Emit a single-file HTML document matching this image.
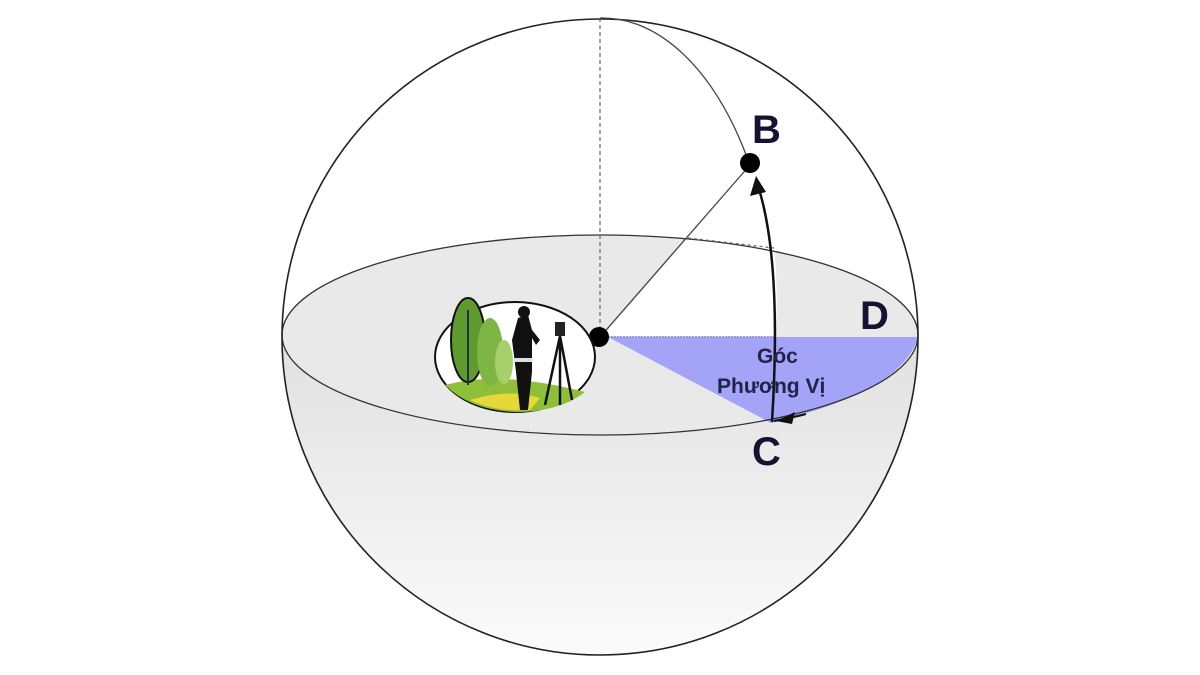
<!DOCTYPE html>
<html><head><meta charset="utf-8"><style>html,body{margin:0;padding:0;background:#fff;}svg{display:block}</style></head>
<body>
<svg width="1200" height="675" viewBox="0 0 1200 675" xmlns="http://www.w3.org/2000/svg">
<defs>
<linearGradient id="lg" x1="0" y1="0" x2="0" y2="1">
<stop offset="0" stop-color="#e0e0e0"/><stop offset="0.5" stop-color="#eeeeee"/><stop offset="1" stop-color="#fcfcfc"/>
</linearGradient>
<clipPath id="sph"><circle cx="600" cy="337" r="318"/></clipPath>
</defs>
<rect width="1200" height="675" fill="#fff"/>
<g clip-path="url(#sph)">
<rect x="280" y="335" width="640" height="330" fill="url(#lg)"/>
<ellipse cx="600" cy="335" rx="318" ry="100" fill="#e9e9e9"/>
</g>
<!-- white wedge -->
<polygon points="603,336 688,237 774,247 776,270 777,300 776,336" style="fill:#ffffff;stroke:none"/>
<!-- blue wedge -->
<path d="M608,337 L918,337 Q905,385 800,415 Q785,420 771,423 Z" fill="#a3a3f7"/>
<line x1="608" y1="337" x2="776" y2="337" stroke="#8a8ad0" stroke-width="1.5" stroke-dasharray="2,1"/>
<ellipse cx="600" cy="335" rx="318" ry="100" fill="none" stroke="#333" stroke-width="1.3"/>
<circle cx="600" cy="337" r="318" fill="none" stroke="#222" stroke-width="1.6"/>
<line x1="600" y1="18" x2="600" y2="337" stroke="#666" stroke-width="1.2" stroke-dasharray="4,3"/>
<line x1="688" y1="238" x2="774" y2="248" stroke="#666" stroke-width="1.2" stroke-dasharray="3,3"/>
<path d="M600,18 A175,319 0 0 1 748,160" fill="none" stroke="#444" stroke-width="1.3"/>
<line x1="600" y1="337" x2="750" y2="165" stroke="#444" stroke-width="1.3"/>
<path d="M772,422 Q782,260 758,186" fill="none" stroke="#111" stroke-width="2.5"/>
<polygon points="756,176 750,196 766,192" fill="#111"/>
<path d="M774,421 Q795,417 806,414" fill="none" stroke="#111" stroke-width="2"/>
<polygon points="776,421 795,412 792,424" fill="#111"/>
<circle cx="599" cy="337" r="10" fill="#000"/>
<circle cx="750" cy="163" r="10" fill="#000"/>
<g font-family="Liberation Sans, sans-serif" font-weight="bold" fill="#141432">
<text x="752" y="143" font-size="40">B</text>
<text x="860" y="329" font-size="40">D</text>
<text x="752" y="465" font-size="40">C</text>
<text x="757" y="363" font-size="21" fill="#22224a">Góc</text>
<text x="717" y="393" font-size="21" fill="#22224a">Phương Vị</text>
</g>
<!-- logo -->
<ellipse cx="515" cy="357" rx="80" ry="55" fill="#fff" stroke="#111" stroke-width="2"/>
<path d="M445,385 Q500,370 585,392 Q560,412 515,412 Q470,410 445,385 Z" fill="#8fbf3a"/>
<path d="M470,400 Q510,388 540,398 L530,410 Q495,412 470,400 Z" fill="#e6d83a"/>
<ellipse cx="468" cy="340" rx="17" ry="42" fill="#5f9a2e" stroke="#111" stroke-width="2"/>
<ellipse cx="490" cy="352" rx="13" ry="34" fill="#7fb545"/>
<ellipse cx="504" cy="362" rx="9" ry="22" fill="#a9cf6a"/>
<line x1="468" y1="310" x2="468" y2="385" stroke="#234" stroke-width="2"/>
<path d="M518,318 L528,315 L532,330 L540,340 L536,345 L532,338 L532,372 L528,410 L520,410 L516,372 L512,340 Z" fill="#111"/>
<circle cx="524" cy="312" r="6" fill="#111"/>
<rect x="514" y="358" width="18" height="4" fill="#ddd"/>
<rect x="555" y="322" width="10" height="14" fill="#222"/>
<path d="M560,336 L545,405 M560,336 L560,405 M560,336 L572,400" stroke="#111" stroke-width="2.5" fill="none"/>
</svg>
</body></html>
